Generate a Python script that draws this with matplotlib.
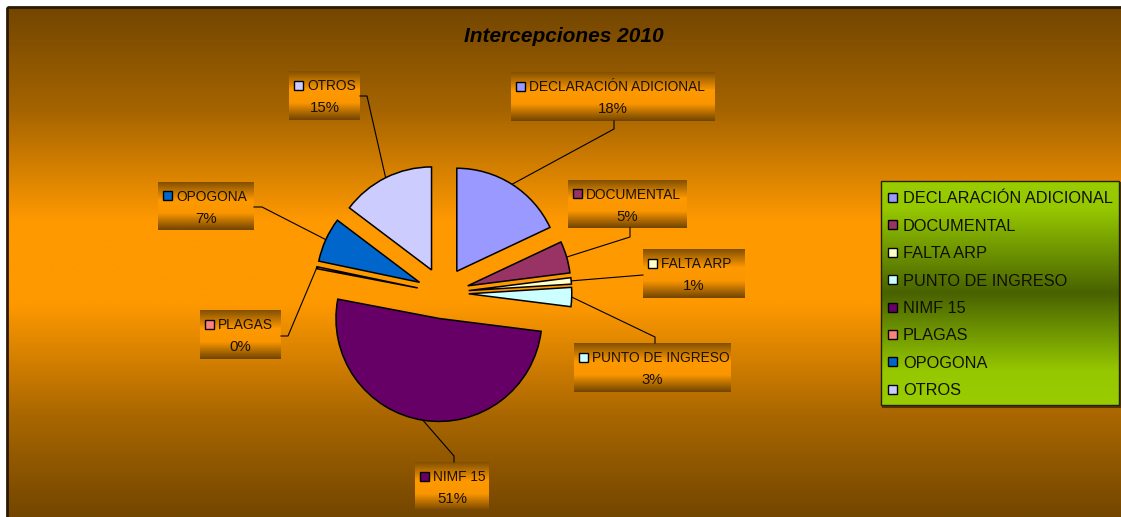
import numpy as np
import matplotlib
matplotlib.use('Agg')
import matplotlib.pyplot as plt
from matplotlib.patches import Rectangle

# ---------------- data ----------------
categories = ['DECLARACIÓN ADICIONAL', 'DOCUMENTAL', 'FALTA ARP', 'PUNTO DE INGRESO',
              'NIMF 15', 'PLAGAS', 'OPOGONA', 'OTROS']
values = [18, 5, 1, 3, 51, 0.3, 7, 14.7]
colors = ['#9999FF', '#993366', '#FFFFCC', '#CCFFFF', '#660066', '#FF8080', '#0066CC', '#CCCCFF']
title = 'Intercepciones 2010'

# ---------------- layout ----------------
W, H = 1121, 517
plt.rcParams['font.family'] = ['Liberation Sans', 'DejaVu Sans']
fig = plt.figure(figsize=(W / 100, H / 100), dpi=100)
fig.patch.set_facecolor('white')

ax_bg = fig.add_axes([0, 0, 1, 1])
ax_bg.set_zorder(0)


def grad(ax, x0, y0, x1, y1, stops, z):
    n = 256
    t = np.linspace(0, 1, n)
    pos = [s[0] for s in stops]
    cols = np.array([np.interp(t, pos, [s[1][k] / 255 for s in stops]) for k in range(3)]).T
    ax.imshow(cols[:, None, :], extent=[x0, x1, y1, y0], aspect='auto',
              interpolation='bilinear', zorder=z, origin='upper')


bg_stops = [(0, (115, 70, 0)), (0.2, (165, 100, 0)), (0.42, (255, 153, 0)),
            (0.58, (255, 153, 0)), (0.8, (170, 103, 0)), (1, (115, 70, 0))]
grad(ax_bg, 7, 7, W, H, bg_stops, 0)
ax_bg.add_patch(Rectangle((7, 7), W + 10, H + 10, fill=False, ec='#2b1900', lw=2, zorder=1))

fig.text(564 / W, 1 - 37 / H, title, ha='center', va='center', fontsize=15,
         fontweight='bold', fontstyle='italic', color='black')

# ---------------- pie ----------------
cx, cy, R = 443, 293, 103
ex = 0.25
ax_p = fig.add_axes([0, 0, 1, 1])
ax_p.set_zorder(1)
ax_p.patch.set_alpha(0)
wedges, _ = ax_p.pie(values, colors=colors, startangle=90, counterclock=False,
                     explode=[ex] * len(values), radius=1,
                     wedgeprops=dict(edgecolor='black', linewidth=1.1))
ax_p.set_xlim(-cx / R, (W - cx) / R)
ax_p.set_ylim(-(H - cy) / R, cy / R)
ax_p.axis('off')

total = sum(values)
fr = np.array(values) / total
cum = np.concatenate([[0], np.cumsum(fr)])
mid = np.radians(90 - 360 * (cum[:-1] + cum[1:]) / 2)

# label boxes (pixel coords, y down) and leader elbow points
boxes = {
    0: ((511, 72, 715, 121), [(614, 121), (614, 129)]),
    1: ((568, 180, 687, 228), [(630, 228), (630, 237)]),
    2: ((643, 249, 745, 298), [(643, 275)]),
    3: ((574, 343, 731, 392), [(655, 343), (655, 337)]),
    4: ((415, 462, 489, 511), [(454, 462), (454, 456)]),
    5: ((200, 310, 281, 359), [(281, 336), (288, 336)]),
    6: ((158, 182, 254, 230), [(254, 207), (262, 207)]),
    7: ((289, 71, 360, 120), [(360, 96), (367, 96)]),
}
box_stops = [(0, (130, 80, 0)), (0.38, (255, 153, 0)), (0.65, (250, 150, 0)), (1, (112, 68, 0))]

for i, (box, elbow) in boxes.items():
    x0, y0, x1, y1 = box
    grad(ax_bg, x0, y0, x1, y1, box_stops, 2)
    wx = cx + (1 + ex) * R * np.cos(mid[i])
    wy = cy - (1 + ex) * R * np.sin(mid[i])
    pts = elbow + [(wx, wy)]
    ax_bg.plot([p[0] for p in pts], [p[1] for p in pts], color='black', lw=0.8, zorder=3)
    h = y1 - y0
    ly1 = y0 + 0.29 * h
    ly2 = y0 + 0.73 * h
    ax_bg.add_patch(Rectangle((x0 + 4.5, ly1 - 4.5), 9, 9, fc=colors[i], ec='black', lw=1, zorder=4))
    ax_bg.text(x0 + 18, ly1 + 5, categories[i], ha='left', va='baseline', fontsize=9.9,
               color='#1a1000', zorder=4)
    pct = f'{round(fr[i] * 100):.0f}%'
    ax_bg.text((x0 + x1) / 2, ly2 + 5.5, pct, ha='center', va='baseline', fontsize=10.8,
               color='#1a1000', zorder=4)

# ---------------- legend ----------------
lx0, ly0, lx1, ly1 = 881, 181, 1119, 405
leg_stops = [(0, (153, 204, 0)), (0.12, (150, 200, 0)), (0.5, (72, 98, 0)),
             (0.85, (150, 200, 0)), (1, (153, 204, 0))]
grad(ax_bg, lx0, ly0, lx1, ly1, leg_stops, 2)
ax_bg.add_patch(Rectangle((lx0 + 2, ly0 + 2), lx1 - lx0, ly1 - ly0, fill=False,
                          ec='#5a3000', lw=1.5, zorder=1.9))
ax_bg.add_patch(Rectangle((lx0, ly0), lx1 - lx0, ly1 - ly0, fill=False, ec='#1a2600', lw=1, zorder=3))
for i, cat in enumerate(categories):
    ry = 197.5 + i * 27.4
    ax_bg.add_patch(Rectangle((888, ry - 4.5), 9, 9, fc=colors[i], ec='black', lw=1, zorder=4))
    ax_bg.text(903, ry + 5.8, cat, ha='left', va='baseline', fontsize=11.75, color='#101000', zorder=4)

ax_bg.set_xlim(0, W)
ax_bg.set_ylim(H, 0)
ax_bg.axis('off')

fig.savefig('out.png', dpi=100, facecolor='white')
